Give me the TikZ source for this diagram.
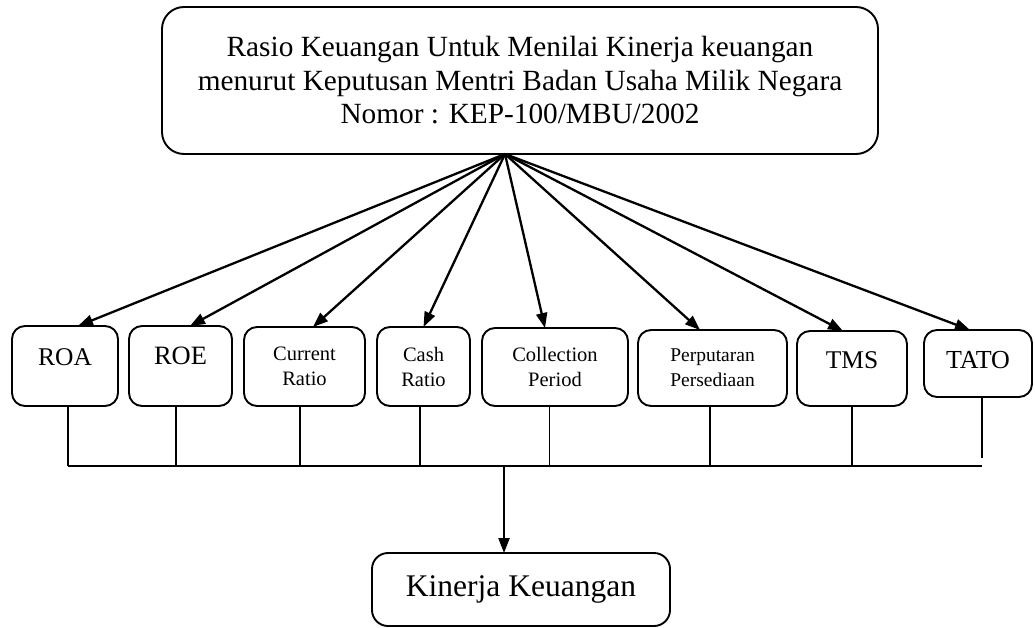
\documentclass[tikz,border=0pt]{standalone}
\usepackage{fontspec}
\setmainfont{Liberation Serif}
\usetikzlibrary{arrows.meta}
\begin{document}
\begin{tikzpicture}[x=1pt,y=-1pt,
  box/.style={draw=black, line width=1.9pt, rounded corners=13pt, inner sep=0pt, outer sep=0pt, align=center},
  single/.style={box, font=\fontsize{25.5}{30}\selectfont, text height=9pt, text depth=10pt},
  double/.style={box, font=\fontsize{20.5}{25}\selectfont},
  arr/.style={line width=2.3pt, -{Triangle[length=15pt,width=11pt]}},
  link/.style={line width=1.8pt}]
\useasboundingbox (0,0) rectangle (1035,628);
% top box
\node[box, rounded corners=22pt, minimum width=716pt, minimum height=147pt,
      font=\fontsize{29.3}{33.5}\selectfont] (top) at (520,80.5)
  {Rasio Keuangan Untuk Menilai Kinerja keuangan\\menurut Keputusan Mentri Badan Usaha Milik Negara\\Nomor : KEP-100/MBU/2002};
% row boxes
\node[single, minimum width=106pt, minimum height=80pt] (roa) at (65,366) {ROA};
\node[single, minimum width=103pt, minimum height=80pt, font=\fontsize{26.5}{30}\selectfont, text height=8pt, text depth=11pt] (roe) at (180.5,366) {ROE};
\node[double, minimum width=121pt, minimum height=79pt] (cr) at (304.5,366.5) {Current\\Ratio};
\node[double, minimum width=93pt, minimum height=79pt] (cash) at (423.5,366.5) {Cash\\Ratio};
\node[double, minimum width=146pt, minimum height=78pt] (coll) at (555,367) {Collection\\Period};
\node[double, minimum width=149pt, minimum height=76pt, font=\fontsize{19.5}{25}\selectfont] (perp) at (712.5,368) {Perputaran\\Persediaan};
\node[single, minimum width=110pt, minimum height=75pt] (tms) at (852,368.5) {TMS};
\node[single, minimum width=108pt, minimum height=67pt, font=\fontsize{26}{30}\selectfont, text height=14pt, text depth=4pt] (tato) at (978,363.5) {TATO};
% bottom box
\node[box, rounded corners=16pt, minimum width=298pt, minimum height=73pt,
      font=\fontsize{31.5}{36}\selectfont] (kin) at (521,589.5) {Kinerja Keuangan};
% fan arrows
\coordinate (fan) at ([xshift=-15pt]top.south);
\draw[arr] (fan) -- ([xshift=13pt]roa.north);
\draw[arr] (fan) -- ([xshift=9.5pt]roe.north);
\draw[arr] (fan) -- ([xshift=8.5pt]cr.north);
\draw[arr] (fan) -- (cash.north);
\draw[arr] (fan) -- ([xshift=-10pt]coll.north);
\draw[arr] (fan) -- ([xshift=-12.5pt]perp.north);
\draw[arr] (fan) -- ([xshift=-9pt]tms.north);
\draw[arr] (fan) -- ([xshift=-8pt]tato.north);
% bus
\coordinate (bus) at (0,466);
\draw[link] ([xshift=3pt]roa.south) -- ([xshift=3pt]roa.south |- bus);
\draw[link] ([xshift=-4.5pt]roe.south) -- ([xshift=-4.5pt]roe.south |- bus);
\draw[link] ([xshift=-4.5pt]cr.south) -- ([xshift=-4.5pt]cr.south |- bus);
\draw[link] ([xshift=-3.5pt]cash.south) -- ([xshift=-3.5pt]cash.south |- bus);
\draw[link] ([xshift=-5.5pt]coll.south) -- ([xshift=-5.5pt]coll.south |- bus);
\draw[link] ([xshift=-2.5pt]perp.south) -- ([xshift=-2.5pt]perp.south |- bus);
\draw[link] (tms.south) -- (tms.south |- bus);
\draw[link] ([xshift=4pt]tato.south) -- ++(0,61);
\draw[link] ([xshift=3pt]roa.south |- bus) -- ([xshift=4pt]tato.south |- bus);
\draw[arr] ([xshift=-17pt]kin.north |- bus) -- ([xshift=-17pt]kin.north);
\end{tikzpicture}
\end{document}
